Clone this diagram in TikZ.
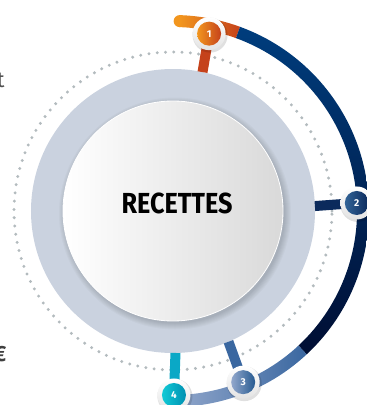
\documentclass[tikz,border=0pt]{standalone}
\usepackage{fontspec}
\setmainfont{Fira Sans}
\usetikzlibrary{positioning, calc}
\definecolor{dotgrey}{HTML}{B3BBBE}
\definecolor{ringgrey}{HTML}{CAD2DF}
\definecolor{discgrey}{HTML}{D9D9D9}
\definecolor{rcorange}{HTML}{F2961E}
\definecolor{rcred}{HTML}{C5421B}
\definecolor{rcnavy}{HTML}{003D7D}
\definecolor{rcnight}{HTML}{000E33}
\definecolor{rcsteel}{HTML}{3A67A0}
\definecolor{rcmist}{HTML}{93A8CC}
\definecolor{rcspoke}{HTML}{0B2A5C}
\definecolor{rccyan}{HTML}{0AA8C6}
\definecolor{rcaqua}{HTML}{10CAD6}
\definecolor{rcdeep}{HTML}{0090B2}
\definecolor{textgrey}{HTML}{505050}

\begin{document}
\begin{tikzpicture}[x=1pt, y=1pt,
  spoke/.style={line width=10pt},
  rim/.style={circle, inner sep=0pt, minimum size=33pt, top color=white, bottom color=gray!22},
  dot/.style={circle, inner sep=0pt, minimum size=24pt, text=white,
    font=\fontsize{10}{10}\selectfont\bfseries}]
\useasboundingbox (-173,-194) rectangle (194,211);
\clip (-173,-194) rectangle (194,211);

% side texts (cut by the frame)
\node[font=\fontsize{22}{22}\selectfont, text=textgrey, anchor=east] (txta) at (-165,131) {et};
\node[font=\fontsize{22}{22}\selectfont\bfseries, text=textgrey!80!black, anchor=east] (txtb) at (-163,-143) {€};

% dotted guide circle
\draw[dotgrey, line width=3.3pt, line cap=round, dash pattern=on 0pt off 8.3pt] (0,0) circle[radius=159];

% outer band
\fill[rcorange] (88:190) circle[radius=6];
\shade[left color=rcorange, right color=rcred]
  (88:184) arc[start angle=88, end angle=70, radius=184] -- (70:196) arc[start angle=70, end angle=88, radius=196] -- cycle;
\shade[top color=rcnavy, bottom color=rcnight]
  (70:184) arc[start angle=70, end angle=-47, radius=184] -- (-47:196) arc[start angle=-47, end angle=70, radius=196] -- cycle;
\shade[left color=rcmist, right color=rcsteel]
  (-47:184) arc[start angle=-47, end angle=-90, radius=184] -- (-90:196) arc[start angle=-90, end angle=-47, radius=196] -- cycle;

% grey ring and centre disc
\node[circle, fill=ringgrey, minimum size=284pt, inner sep=0pt, outer sep=0pt] (ring) at (0,0) {};
\foreach \k in {1,...,7} {
  \fill[black, opacity=0.025] (2,-2.5) circle[radius=109+\k];
}
\node[circle, minimum size=220pt, inner sep=0pt, left color=white, right color=discgrey, draw=white, line width=0.8pt] (core) at (0,0) {};
\node[font=\fontsize{29}{29}\selectfont\bfseries] (title) at (4,8) {\scalebox{0.87}[1]{RECETTES}};

% spokes and numbered badges
\foreach \n/\ang/\rad/\ca/\cb/\cs in {1/78.5/181/rcorange/rcred/rcred, 2/2.5/184/rcnavy!80!white/rcspoke/rcspoke, 3/-67.7/185/rcmist/rcnavy!85!white/rcsteel, 4/-89.7/184/rcaqua/rcdeep/rccyan} {
  \coordinate (p\n) at (\ang:\rad);
  \draw[spoke, \cs] (ring.\ang) -- (p\n);
  \fill[black, opacity=0.12] ($(p\n)+(1,-1.5)$) circle[radius=17.5];
  \node[rim] (r\n) at (p\n) {};
  \node[dot, left color=\ca, right color=\cb] (b\n) at (p\n) {\n};
}

\end{tikzpicture}
\end{document}
